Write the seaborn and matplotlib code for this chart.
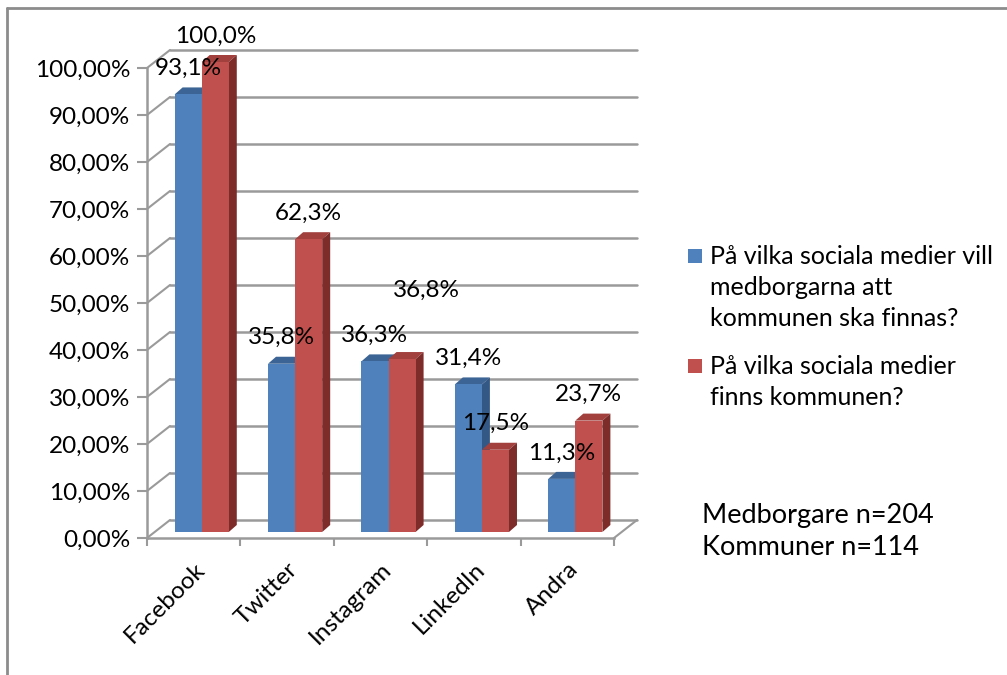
import matplotlib
matplotlib.use("Agg")
import matplotlib.pyplot as plt
from matplotlib.patches import Polygon, Rectangle
from matplotlib.lines import Line2D
from matplotlib.transforms import offset_copy
import seaborn as sns
import pandas as pd

# data
platforms = ["Facebook", "Twitter", "Instagram", "LinkedIn", "Andra"]
medborgare = [93.1, 35.8, 36.3, 31.4, 11.3]
kommuner = [100.0, 62.3, 36.8, 17.5, 23.7]
series_names = ["På vilka sociala medier vill\nmedborgarna att\nkommunen ska finnas?",
                "På vilka sociala medier\nfinns kommunen?"]
y_ticks = list(range(0, 101, 10))
note = "Medborgare n=204\nKommuner n=114"

colors = ["#4F81BD", "#C0504D"]
top_cols = ["#3C6494", "#A1403D"]
side_cols = ["#345886", "#7E2C2A"]
grid_col = "#9a9a9a"

df = pd.DataFrame({
    "platform": platforms * 2,
    "value": medborgare + kommuner,
    "series": [series_names[0]] * len(platforms) + [series_names[1]] * len(platforms),
})

sns.set_theme(style="white")
plt.rcParams["font.family"] = ["Lato", "DejaVu Sans"]

W, H = 1007, 675
fig = plt.figure(figsize=(W / 100, H / 100), dpi=100)
ax = fig.add_axes([147 / W, 137 / H, 467 / W, 470 / H])

sns.barplot(data=df, x="platform", y="value", hue="series", palette=colors,
            width=0.58, saturation=1, errorbar=None, legend=False, ax=ax, zorder=3)
ax.set_xlim(-0.5, 4.5)
ax.set_ylim(0, 100)

# pixel scale of the front plane
p0 = ax.transData.transform((0, 0))
p1 = ax.transData.transform((1, 1))
sx, sy = p1 - p0

# back wall + side wall + floor (fake 3d)
back = offset_copy(ax.transData, fig=fig, x=23, y=18, units="dots")
wdx, wdy = 23 / sx, 18 / sy
for v in y_ticks:
    ax.plot([-0.5, 4.5], [v, v], transform=back, color=grid_col, lw=1.8,
            clip_on=False, zorder=1)
    ax.plot([-0.5, -0.5 + wdx], [v, v + wdy], color=grid_col, lw=1.5,
            clip_on=False, zorder=1)
ax.plot([4.5, 4.5 + wdx], [0, wdy], color=grid_col, lw=1.5, clip_on=False, zorder=1)

# bars sit a bit inside the box, with their own depth
off = offset_copy(ax.transData, fig=fig, x=8, y=6, units="dots")
bdx, bdy = 8 / sx, 7 / sy
label_shift = {(2, 1): (24, 69)}
n = len(platforms)
for k, patch in enumerate(list(ax.patches)):
    s, i = k // n, k % n
    x, w, h = patch.get_x(), patch.get_width(), patch.get_height()
    patch.set_transform(off)
    patch.set_clip_on(False)
    patch.set_linewidth(0)
    ax.add_patch(Polygon([(x, h), (x + w, h), (x + w + bdx, h + bdy), (x + bdx, h + bdy)],
                         closed=True, transform=off, facecolor=top_cols[s], lw=0,
                         zorder=2.5, clip_on=False))
    ax.add_patch(Polygon([(x + w, 0), (x + w + bdx, bdy), (x + w + bdx, h + bdy), (x + w, h)],
                         closed=True, transform=off, facecolor=side_cols[s], lw=0,
                         zorder=2.5, clip_on=False))
    ax.annotate(f"{h:.1f}".replace(".", ",") + "%", (x + w / 2, h), xycoords=off,
                xytext=label_shift.get((i, s), (0, 26)), textcoords="offset pixels",
                ha="center", va="center", fontsize=17.5, color="black", zorder=5)

for sp in ["top", "right"]:
    ax.spines[sp].set_visible(False)
for sp in ["left", "bottom"]:
    ax.spines[sp].set_color(grid_col)
    ax.spines[sp].set_linewidth(1.8)

ax.set_yticks(y_ticks)
ax.set_yticklabels([f"{v:.2f}".replace(".", ",") + "%" for v in y_ticks])
ax.tick_params(axis="y", direction="out", length=7, width=1.5, color=grid_col,
               pad=5, labelsize=17.5, labelcolor="black", left=True)
ax.set_xticks(range(n))
ax.set_xticklabels(platforms, rotation=45, ha="right", rotation_mode="anchor")
ax.tick_params(axis="x", which="major", length=0, pad=15, labelsize=17.5, labelcolor="black")
ax.set_xticks([i - 0.5 for i in range(n + 1)], minor=True)
ax.tick_params(axis="x", which="minor", direction="out", length=6, width=1.5,
               color=grid_col, bottom=True)
ax.set_xlabel("")
ax.set_ylabel("")

# legend, laid out like the excel one (marker next to first line)
leg_y = [249, 359]
for s, name in enumerate(series_names):
    fig.add_artist(Rectangle((688 / W, 1 - (leg_y[s] + 14) / H), 14 / W, 14 / H,
                             transform=fig.transFigure, facecolor=colors[s], lw=0))
    fig.text(710 / W, 1 - (leg_y[s] - 4) / H, name, ha="left", va="top",
             fontsize=18, linespacing=1.42, color="black")

fig.text(702 / W, 1 - 503 / H, note, ha="left", va="top", fontsize=19.5,
         linespacing=1.35, color="black")

# outer chart frame
fig.add_artist(Line2D([7 / W, 7 / W], [0, 1 - 8 / H], transform=fig.transFigure,
                      color="#8c8c8c", lw=2))
fig.add_artist(Line2D([7 / W, 1], [1 - 8 / H, 1 - 8 / H], transform=fig.transFigure,
                      color="#8c8c8c", lw=2))

fig.savefig("out.png", dpi=100)
